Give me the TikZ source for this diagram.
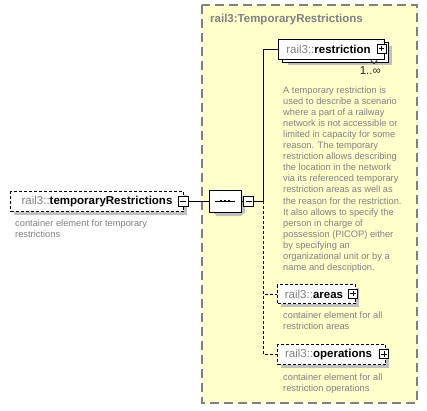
\documentclass[tikz,border=0pt]{standalone}
\usepackage{fontspec}
\setmainfont{Liberation Sans}
\usetikzlibrary{shapes.misc,calc}
\definecolor{ybg}{RGB}{255,255,204}
\definecolor{bgray}{RGB}{128,128,128}
\definecolor{tgray}{RGB}{128,128,128}
\definecolor{shadowgray}{RGB}{192,192,192}
\newcommand{\nmfont}{\fontsize{11.5}{13}\selectfont}
\newcommand{\dsfont}{\fontsize{9.3}{11.06}\selectfont}
\newcommand{\pfx}{{\color{tgray}rail3::}}
\begin{document}
\begin{tikzpicture}[x=1pt,y=-1pt,
  grpbox/.style={draw=bgray, fill=ybg, line width=1.2pt, dash pattern=on 9pt off 5pt},
  ttl/.style={font=\nmfont\bfseries, text=tgray, anchor=west, inner sep=0pt},
  shdfill/.style={fill=shadowgray, draw=none},
  elem/.style={draw=black, fill=white, line width=1pt, anchor=north west, inner sep=0pt, minimum height=20pt, font=\nmfont},
  optelem/.style={elem, dash pattern=on 3pt off 2pt},
  desc/.style={font=\dsfont, text=tgray, align=left, anchor=north west, inner sep=0pt},
  pmbox/.style={draw=black, fill=white, line width=0.8pt, inner sep=0pt, minimum size=#1},
  plusbox/.style={pmbox=9pt, path picture={
      \draw[line width=0.8pt] ([xshift=1.6pt]path picture bounding box.west) -- ([xshift=-1.6pt]path picture bounding box.east);
      \draw[line width=0.8pt] ([yshift=-1.6pt]path picture bounding box.north) -- ([yshift=1.6pt]path picture bounding box.south);}},
  minusbox/.style={pmbox=10pt, path picture={
      \draw[line width=0.8pt] ([xshift=1.8pt]path picture bounding box.west) -- ([xshift=-1.8pt]path picture bounding box.east);}},
  conn/.style={line width=1pt, draw=black},
  optconn/.style={conn, dash pattern=on 3pt off 2pt},
  seqshape/.style={chamfered rectangle, chamfered rectangle xsep=4pt, chamfered rectangle ysep=4pt,
      draw=black, fill=white, line width=1pt, minimum width=32pt, minimum height=22pt, inner sep=0pt}
]
\useasboundingbox (0,0) rectangle (427,410);

% group box
\coordinate (g1) at (202,5);
\coordinate (g2) at (417,403);
\draw[grpbox] (g1) rectangle (g2);
\node[ttl] (title) at (210,20) {rail3:TemporaryRestrictions};

% root element
\path[shdfill] (14,195) rectangle (186.5,214.5);
\node[optelem, minimum width=173pt] (tr) at (10,191) {\pfx\textbf{temporaryRestrictions}};
\node[minusbox] (trpm) at (183,201) {};
\node[desc] (trdesc) at (15,219.5) {container element for temporary\\restrictions};

% sequence compositor (shadow, then shape)
\path[shdfill] (217,194) -- (241,194) -- (245,198) -- (245,212) -- (241,216) -- (217,216) -- (213,212) -- (213,198) -- cycle;
\node[seqshape] (seq) at (225,201) {};
\draw[line width=1pt] ($(seq.center)+(-10,0)$) coordinate (sqa) -- ($(seq.center)+(10,0)$) coordinate (sqb);
\foreach \dx in {-4,0,4} \fill ($(seq.center)+(\dx,0)+(-1.4,-1.4)$) rectangle +(2.8,2.8);
\node[minusbox] (seqpm) at (248.7,201) {};

% restriction element (repeating, stacked)
\path[shdfill] (288,46) rectangle (392,65);
\path[draw=black, line width=1pt, fill=white] (282,42) rectangle (388,62);
\coordinate (chv) at (374,62);
\draw[line width=0.8pt, fill=white] ($(chv)+(-3.2,-1.5)$) -- ($(chv)+(0,1.5)$) -- ($(chv)+(3.2,-1.5)$);
\node[elem, minimum width=106pt] (restr) at (278,39) {\pfx\textbf{restriction}\hspace*{6pt}};
\node[plusbox] (restrpm) at (381.5,48.5) {};
\node[font=\fontsize{11.5}{13}\selectfont, text=black!85, anchor=east, inner sep=0pt] (mult) at (381,71) {1..∞};
\node[desc] (restrdesc) at (283,86.5) {A temporary restriction is\\used to describe a scenario\\where a part of a railway\\network is not accessible or\\limited in capacity for some\\reason. The temporary\\restriction allows describing\\the location in the network\\via its referenced temporary\\restriction areas as well as\\the reason for the restriction.\\It also allows to specify the\\person in charge of\\possession (PICOP) either\\by specifying an\\organizational unit or by a\\name and description.};

% areas
\path[shdfill] (281,288) rectangle (359,306.5);
\node[optelem, minimum width=78pt, minimum height=19pt] (areas) at (277,284) {\pfx\textbf{areas}\hspace*{5pt}};
\node[plusbox] (areaspm) at (353,293.5) {};
\node[desc] (areasdesc) at (283,311.5) {container element for all\\restriction areas};

% operations
\path[shdfill] (281,348) rectangle (388.5,367.5);
\node[optelem, minimum width=108pt] (ops) at (277,344) {\pfx\textbf{operations}\hspace*{6pt}};
\node[plusbox] (opspm) at (384,354) {};
\node[desc] (opsdesc) at (283,373.5) {container element for all\\restriction operations};

% connectors
\coordinate (jn) at (263,201);
\draw[conn] (trpm.east) -- (seq.west);
\draw[conn] (seq.east) -- (seqpm.west);
\draw[conn] (seqpm.east) -- (jn);
\draw[conn] (jn) |- (restr.west);
\draw[optconn] (jn) |- (areas.west);
\draw[optconn] (jn) |- (ops.west);
\end{tikzpicture}
\end{document}
